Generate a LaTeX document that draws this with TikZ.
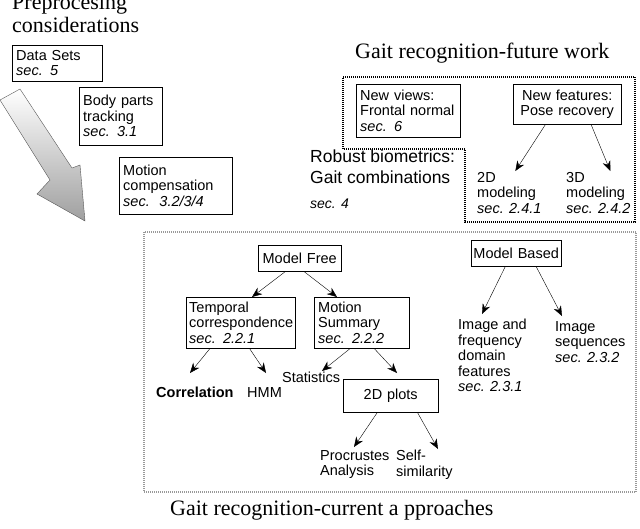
\documentclass[tikz,border=0pt]{standalone}
\usepackage{fontspec}
\setmainfont{Liberation Sans}
\newfontfamily\titlefont{Liberation Serif}
\usetikzlibrary{calc, arrows.meta}
\begin{document}
\begin{tikzpicture}[x=1pt, y=-1pt,
  every node/.style={font=\fontsize{14.5}{15.5}\selectfont},
  box/.style={draw, thin, anchor=north west, align=left, inner xsep=4pt, inner ysep=1pt},
  txt/.style={anchor=north west, align=left, inner sep=0pt},
  ttl/.style={anchor=north west, align=left, inner sep=0pt, font=\titlefont\fontsize{22}{23}\selectfont},
  arr/.style={-{Stealth[length=10pt, width=8pt]}, thin}]
\useasboundingbox (0,0) rectangle (640,528);

% preprocessing
\node[ttl] (pretitle) at (12,-5) {Preprocesing\\considerations};
\node[box, text width=82, minimum height=36] (ds) at (12,45) {Data Sets\\{\itshape sec. 5}};
\node[box, text width=75, minimum height=58] (bp) at (79,87) {Body parts\\tracking\\{\itshape sec. 3.1}};
\node[box, text width=105, minimum height=57] (mc) at (119,157) {Motion\\compensation\\{\itshape sec.\ \ 3.2/3/4}};
\shade[draw=gray!70!black, thin, top color=white, bottom color=gray!75]
  (0,100) -- (20,89) -- (72,168) -- (80,165) -- (85,221) -- (37,194) -- (50,180) -- cycle;

% future work
\node[ttl] (futtitle) at (355,43) {Gait recognition-future work};
\draw[line width=1.5pt, dash pattern=on 1pt off 1pt]
  (343,77) -- (635,77) -- (635,222) -- (465,222) -- (465,149) -- (343,149) -- cycle;
\node[box, text width=96, minimum height=53] (nv) at (356,84) {New views:\\Frontal normal\\{\itshape sec. 6}};
\node[box, text width=100, minimum height=40, align=center] (nf) at (513,84) {New features:\\Pose recovery};
\node[txt] (m2d) at (477,172) {2D\\modeling\\{\itshape sec. 2.4.1}};
\node[txt] (m3d) at (566,172) {3D\\modeling\\{\itshape sec. 2.4.2}};
\draw[arr] ($(nf.south west)!0.3!(nf.south east)$) -- ($(m2d.north)+(6,-1)$);
\draw[arr] ($(nf.south west)!0.72!(nf.south east)$) -- ($(m3d.north)+(12,-1)$);
\node[txt, font=\fontsize{17.5}{21}\selectfont] (rb) at (310,150) {Robust biometrics:\\Gait combinations};
\node[txt, font=\itshape\fontsize{14}{15}\selectfont] (rbs) at (310,199) {sec. 4};

% current approaches
\draw[gray!80, line width=2.5pt, dash pattern=on 1pt off 1pt] (144,232) rectangle (636,492);
\node[box, text width=75, minimum height=26, align=center] (mf) at (258,245) {Model Free};
\node[box, text width=86, minimum height=26, inner xsep=2pt, align=center] (mb) at (471,240) {Model Based};
\node[box, text width=103, minimum height=51, inner xsep=3pt] (tc) at (186,297) {Temporal\\correspondence\\{\itshape sec. 2.2.1}};
\node[box, text width=87, minimum height=51] (ms) at (314,297) {Motion\\Summary\\{\itshape sec. 2.2.2}};
\node[txt, font=\bfseries\fontsize{14.5}{15.5}\selectfont] (cor) at (156,387) {Correlation};
\node[txt] (hmm) at (247,387) {HMM};
\node[txt] (stat) at (282,372) {Statistics};
\node[box, text width=87, minimum height=33, align=center] (p2d) at (343,379) {2D plots};
\node[txt] (pa) at (320,450) {Procrustes\\Analysis};
\node[txt] (ss) at (396,450) {Self-\\similarity};
\node[txt] (ifd) at (458,319) {Image and\\frequency\\domain\\features\\{\itshape sec. 2.3.1}};
\node[txt] (isq) at (555,321) {Image\\sequences\\{\itshape sec. 2.3.2}};
\draw[arr] ($(mf.south west)!0.33!(mf.south east)$) -- (252,297);
\draw[arr] ($(mf.south west)!0.55!(mf.south east)$) -- (337,297);
\draw[arr] ($(tc.south west)!0.22!(tc.south east)$) -- ($(cor.north west)+(34,-14)$);
\draw[arr] ($(tc.south west)!0.58!(tc.south east)$) -- ($(hmm.north west)+(19,-14)$);
\draw[arr] ($(ms.south west)!0.38!(ms.south east)$) -- ($(stat.north west)+(40,-1)$);
\draw[arr] ($(ms.south west)!0.63!(ms.south east)$) -- ($(p2d.north west)+(54,-6)$);
\draw[arr] ($(p2d.south west)!0.36!(p2d.south east)$) -- ($(pa.north west)+(34,-3)$);
\draw[arr] ($(p2d.south west)!0.78!(p2d.south east)$) -- ($(ss.north west)+(42,-1)$);
\draw[arr] ($(mb.south west)!0.38!(mb.south east)$) -- ($(ifd.north west)+(24,-5)$);
\draw[arr] ($(mb.south west)!0.72!(mb.south east)$) -- ($(isq.north west)+(7,-5)$);
\node[ttl] (curtitle) at (170,500) {Gait recognition-current a pproaches};
\end{tikzpicture}
\end{document}
